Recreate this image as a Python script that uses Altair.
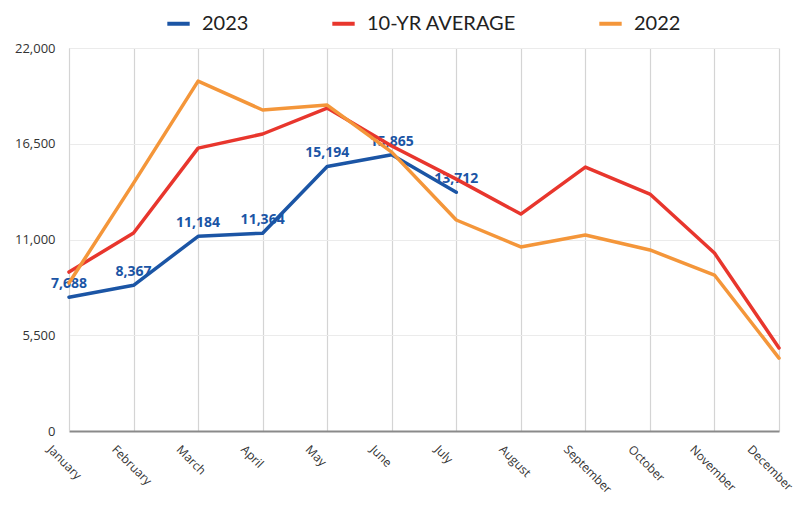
import altair as alt
import pandas as pd

months = ["January", "February", "March", "April", "May", "June", "July",
          "August", "September", "October", "November", "December"]
series_names = ["2023", "10-YR AVERAGE", "2022"]
colors = ["#1B55A5", "#E8362D", "#F4963A"]

y2023 = [7688, 8367, 11184, 11364, 15194, 15865, 13712]
avg10 = [9130, 11370, 16250, 17060, 18550, 16370, 14470, 12460, 15160, 13610, 10220, 4770]
y2022 = [8500, 14240, 20100, 18440, 18720, 16020, 12120, 10570, 11260, 10400, 8960, 4190]
y_ticks = [0, 5500, 11000, 16500, 22000]

rows = []
for name, vals in zip(series_names, [y2023, avg10, y2022]):
    for i, v in enumerate(vals):
        rows.append({"month": months[i], "value": v, "series": name,
                     "order": series_names.index(name)})
df = pd.DataFrame(rows)
lab = df[df["series"] == "2023"]

x_enc = alt.X("month:N", sort=months,
              scale=alt.Scale(type="point", padding=0),
              axis=alt.Axis(title=None, labelAngle=45, labelAlign="left",
                            labelBaseline="middle",
                            labelOffset=alt.ExprRef("datum.value == 'December' ? -30 : (datum.value == 'November' ? -23 : -20)"),
                            labelPadding=16,
                            labelFont="Open Sans", labelFontSize=12, labelColor="#333333",
                            ticks=False, grid=True, gridColor="#d4d4d4", gridWidth=1.2,
                            domainColor="#8a8a8a", domainWidth=2))
y_enc = alt.Y("value:Q",
              scale=alt.Scale(domain=[0, 22000], nice=False),
              axis=alt.Axis(title=None, values=y_ticks, format=",d", ticks=False,
                            labelPadding=14, labelFont="Open Sans", labelFontSize=13,
                            labelColor="#333333", grid=True, gridColor="#ebebeb",
                            domainColor="#d4d4d4"))

text = alt.Chart(lab).mark_text(dy=-13, fontWeight="bold", fontSize=14,
                                font="Open Sans", color="#1B55A5").encode(
    x=x_enc, y=y_enc, text=alt.Text("value:Q", format=",d"))

lines = alt.Chart(df).mark_line(strokeWidth=3.5, strokeCap="round", strokeJoin="round").encode(
    x=x_enc, y=y_enc,
    color=alt.Color("series:N", sort=series_names,
                    scale=alt.Scale(domain=series_names, range=colors),
                    legend=alt.Legend(title=None, orient="none", legendX=96, legendY=-38,
                                      direction="horizontal", columns=3,
                                      symbolType="stroke", symbolStrokeWidth=4,
                                      symbolSize=500, labelFont="Lato", labelFontSize=20,
                                      labelColor="#222222", labelOffset=10,
                                      columnPadding=75)),
    order=alt.Order("order:Q"))

chart = alt.layer(text, lines).properties(
    width=710, height=383,
    autosize=alt.AutoSizeParams(type="none"),
    padding={"left": 61, "top": 40, "right": 22, "bottom": 68},
).configure_view(stroke=None)

chart.save("out.html", embed_options={"renderer": "svg", "actions": False})
